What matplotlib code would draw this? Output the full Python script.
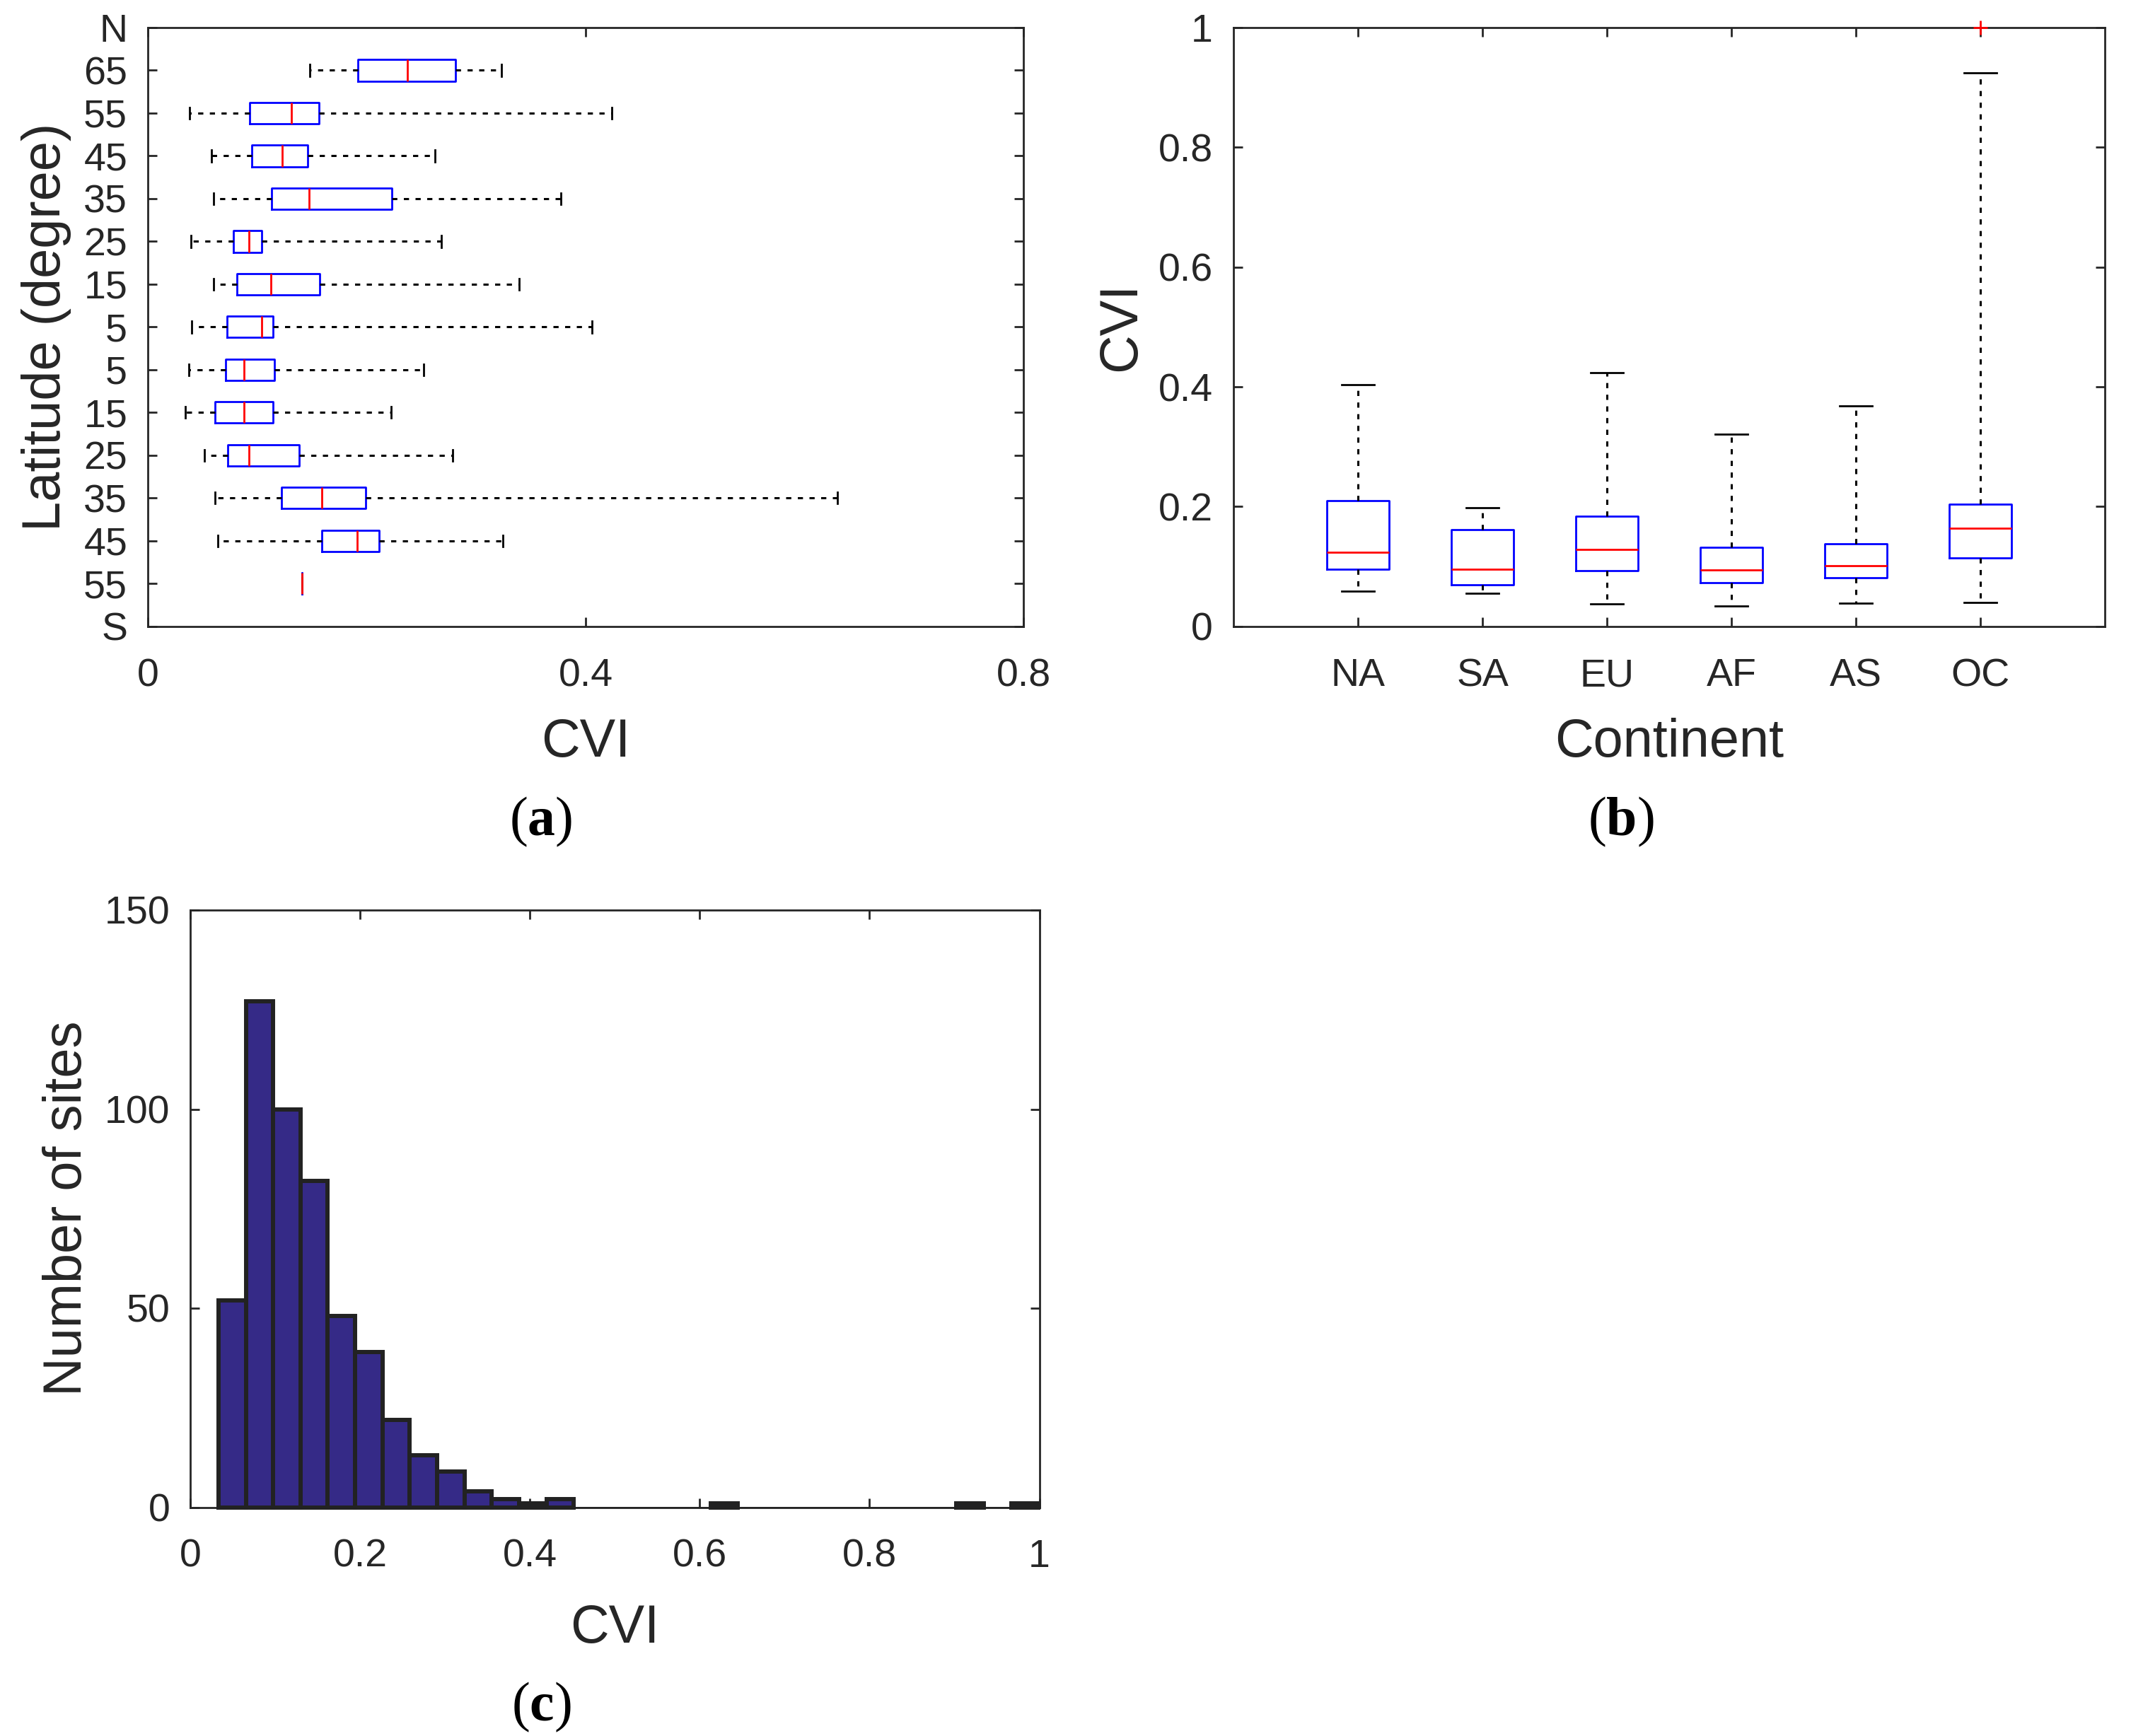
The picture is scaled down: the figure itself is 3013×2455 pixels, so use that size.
import matplotlib
matplotlib.use("Agg")
import matplotlib.pyplot as plt

plt.rcParams['font.family'] = ['Liberation Sans', 'DejaVu Sans']
plt.rcParams['mathtext.fontset'] = 'custom'
plt.rcParams['mathtext.bf'] = 'Liberation Serif:bold'
plt.rcParams['mathtext.rm'] = 'Liberation Serif'
plt.rcParams['text.color'] = '#262626'

# painel a - latitude (de sul para norte, 55 S ate 65 N)
lat_labels = ['S', '55', '45', '35', '25', '15', '5', '5', '15', '25', '35', '45', '55', '65', 'N']
lat_lo = [0.141, 0.064, 0.061, 0.0516, 0.034, 0.037, 0.040, 0.0597, 0.039, 0.0597, 0.058, 0.038, 0.148]
lat_q1 = [0.141, 0.1585, 0.122, 0.0727, 0.0615, 0.071, 0.072, 0.081, 0.078, 0.113, 0.0945, 0.0926, 0.192]
lat_med = [0.141, 0.191, 0.159, 0.092, 0.0876, 0.0876, 0.104, 0.1125, 0.092, 0.147, 0.1225, 0.131, 0.237]
lat_q3 = [0.141, 0.211, 0.199, 0.138, 0.114, 0.1156, 0.114, 0.157, 0.104, 0.2225, 0.146, 0.156, 0.281]
lat_hi = [0.141, 0.3245, 0.63, 0.2785, 0.222, 0.252, 0.406, 0.339, 0.268, 0.377, 0.262, 0.424, 0.323]

# painel b - continentes
cont_labels = ['NA', 'SA', 'EU', 'AF', 'AS', 'OC']
cont_lo = [0.059, 0.0555, 0.038, 0.034, 0.039, 0.040]
cont_q1 = [0.095, 0.069, 0.0934, 0.073, 0.081, 0.114]
cont_med = [0.124, 0.095, 0.1286, 0.094, 0.101, 0.164]
cont_q3 = [0.210, 0.162, 0.184, 0.132, 0.138, 0.2044]
cont_hi = [0.404, 0.198, 0.4237, 0.321, 0.368, 0.924]
cont_out = [[], [], [], [], [], [1.0]]

# painel c - histograma (30 classes)
hist_start = 0.033
hist_width = 0.0322
hist_counts = [52, 127, 100, 82, 48, 39, 22, 13, 9, 4, 2, 1, 2, 0, 0, 0, 0, 0, 1,
               0, 0, 0, 0, 0, 0, 0, 0, 1, 0, 1]

W, H = 3013, 2455
DARK = '#262626'
fig = plt.figure(figsize=(W / 100, H / 100), dpi=100, facecolor='white')


def eixo(x0, x1, y0, y1):
    # cria o eixo a partir da posicao em pixels da imagem
    ax = fig.add_axes([x0 / W, 1 - y1 / H, (x1 - x0) / W, (y1 - y0) / H])
    for s in ax.spines.values():
        s.set_linewidth(2.0)
        s.set_color(DARK)
    ax.tick_params(direction='in', top=True, right=True, length=9.6, width=2.0,
                   color=DARK, labelcolor=DARK, labelsize=40)
    ax.tick_params(axis='x', pad=32)
    ax.tick_params(axis='y', pad=21)
    return ax


def caixas(ax, lo, q1, med, q3, hi, fliers, orient, pos, capw):
    stats = []
    for i in range(len(med)):
        stats.append({'whislo': lo[i], 'q1': q1[i], 'med': med[i], 'q3': q3[i],
                      'whishi': hi[i], 'fliers': fliers[i]})
    ax.bxp(stats, positions=pos, widths=0.5, orientation=orient, capwidths=capw,
           manage_ticks=False,
           boxprops=dict(color='#0000ff', linewidth=2.0),
           medianprops=dict(color='#ff0000', linewidth=2.0, zorder=5, solid_capstyle='butt'),
           whiskerprops=dict(color='black', linewidth=2.2, linestyle=(0, (2.4, 3.0))),
           capprops=dict(color='black', linewidth=2.0),
           flierprops=dict(marker='+', markeredgecolor='#ff0000', markersize=14.5,
                           markeredgewidth=2, clip_on=False, zorder=10))


# (a)
ax_a = eixo(209.3, 1447, 39, 885.7)
caixas(ax_a, lat_lo, lat_q1, lat_med, lat_q3, lat_hi, [[]] * 13, 'horizontal',
       list(range(1, 14)), 0.27)
ax_a.set_xlim(0, 0.8)
ax_a.set_ylim(0, 14)
ax_a.set_xticks([0, 0.4, 0.8])
ax_a.set_xticklabels(['0', '0.4', '0.8'])
ax_a.set_yticks(range(15))
ax_a.set_yticklabels(lat_labels)
ax_a.set_xlabel('CVI', fontsize=54.5, labelpad=24, color=DARK)
ax_a.set_ylabel('Latitude (degree)', fontsize=54.5, labelpad=12, color=DARK)

# (b)
ax_b = eixo(1744, 2976, 39, 885.7)
caixas(ax_b, cont_lo, cont_q1, cont_med, cont_q3, cont_hi, cont_out, 'vertical',
       list(range(1, 7)), 0.26)
ax_b.set_xlim(0, 7)
ax_b.set_ylim(0, 1)
ax_b.set_xticks(range(1, 7))
ax_b.set_xticklabels(cont_labels)
ax_b.set_yticks([0, 0.2, 0.4, 0.6, 0.8, 1])
ax_b.set_yticklabels(['0', '0.2', '0.4', '0.6', '0.8', '1'])
ax_b.set_xlabel('Continent', fontsize=54.5, labelpad=24, color=DARK)
ax_b.set_ylabel('CVI', fontsize=54.5, labelpad=12, color=DARK)

# (c)
ax_c = eixo(269.3, 1469.5, 1287, 2131.5)
lefts = [hist_start + hist_width * i for i in range(len(hist_counts))]
larguras = [4.3 if c > 0 else 1.2 for c in hist_counts]
ax_c.bar(lefts, hist_counts, width=hist_width, align='edge', color='#352a87',
         edgecolor='#222222', linewidth=larguras, clip_on=False, zorder=3)
ax_c.set_xlim(0, 1)
ax_c.set_ylim(0, 150)
ax_c.set_xticks([0, 0.2, 0.4, 0.6, 0.8, 1])
ax_c.set_xticklabels(['0', '0.2', '0.4', '0.6', '0.8', '1'])
ax_c.set_yticks([0, 50, 100, 150])
ax_c.set_xlabel('CVI', fontsize=54.5, labelpad=29, color=DARK)
ax_c.set_ylabel('Number of sites', fontsize=54.5, labelpad=12, color=DARK)

# letras dos paineis
for letra, x, y in [('a', 765, 1162), ('b', 2292, 1162), ('c', 765, 2414)]:
    fig.text(x / W, 1 - y / H, '(' + r'$\mathbf{' + letra + '}$' + ')', fontsize=56,
             family='Liberation Serif', color='black', ha='center', va='center')

fig.savefig('out.png', dpi=100)
